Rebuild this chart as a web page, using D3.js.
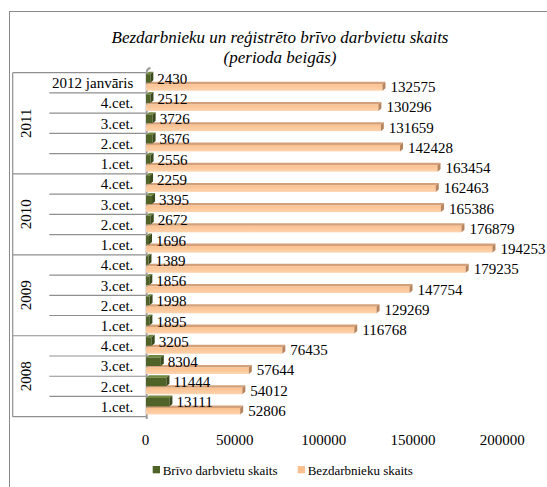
<!DOCTYPE html>
<html>
<head>
<meta charset="utf-8">
<script src="https://cdn.jsdelivr.net/npm/d3@7"></script>
<style>
    body { margin: 0; background: #fff; }
    svg text { font-family: "Liberation Serif", Tinos, "Times New Roman", Times, "DejaVu Serif", serif; fill: #000; }
</style>
</head>
<body>
<div id="chart"></div>
<script>
// categories, top to bottom as drawn
const categories = ["2012 janvāris", "4.cet.", "3.cet.", "2.cet.", "1.cet.",
                    "4.cet.", "3.cet.", "2.cet.", "1.cet.",
                    "4.cet.", "3.cet.", "2.cet.", "1.cet.",
                    "4.cet.", "3.cet.", "2.cet.", "1.cet."];
const years = ["2011", "2010", "2009", "2008"];
const yearRows = [5, 4, 4, 4];

// series values, same order as categories
const vacancies = [2430, 2512, 3726, 3676, 2556,
                   2259, 3395, 2672, 1696,
                   1389, 1856, 1998, 1895,
                   3205, 8304, 11444, 13111];
const unemployed = [132575, 130296, 131659, 142428, 163454,
                    162463, 165386, 176879, 194253,
                    179235, 147754, 129269, 116768,
                    76435, 57644, 54012, 52806];

const xTicks = [0, 50000, 100000, 150000, 200000];
const seriesNames = ["Brīvo darbvietu skaits", "Bezdarbnieku skaits"];

const fontStack = "\"Liberation Serif\", Tinos, \"Times New Roman\", Times, \"DejaVu Serif\", serif";
const width = 547;
const height = 487;
const depth = {x: 3, y: -2.5};

// rows keyed by index so repeated labels stay distinct
const rows = categories.map(function(c, i) {
    return {i: i, label: c, green: vacancies[i], orange: unemployed[i]};
});

const xScale = d3.scaleLinear().domain([0, 200000]).range([145, 501.7]);
const xBar = d3.scaleLinear().domain([0, 200000]).range([146, 502.7]);
const yScale = d3.scaleBand().domain(d3.range(rows.length)).range([72.7, 416.7]);
const rowH = yScale.bandwidth();

const svg = d3.select("#chart").append("svg")
    .attr("width", width)
    .attr("height", height)
    .style("font-family", fontStack);

// outer chart border (runs past the picture on right and bottom)
svg.append("rect")
    .attr("x", 9.5).attr("y", 11.5)
    .attr("width", 600).attr("height", 600)
    .attr("fill", "none")
    .attr("stroke", "#8a8a8a")
    .attr("stroke-width", 1);

// title
const title = svg.append("text")
    .attr("text-anchor", "middle")
    .style("font-style", "italic")
    .style("font-size", "17px");
title.append("tspan").attr("x", 280).attr("y", 42.5).text("Bezdarbnieku un reģistrēto brīvo darbvietu skaits");
title.append("tspan").attr("x", 280).attr("y", 63).text("(perioda beigās)");

// label table on the left
const table = svg.append("g")
    .attr("stroke", "#8f8f8f")
    .attr("stroke-width", 1.2);

let start = 0;
const groupBounds = [];
yearRows.forEach(function(n) {
    groupBounds.push([start, start + n]);
    start += n;
});

rows.forEach(function(d) {
    const isGroupTop = groupBounds.some(function(b) { return b[0] === d.i; });
    table.append("line")
        .attr("x1", isGroupTop ? 12.7 : 49.3)
        .attr("x2", 146.7)
        .attr("y1", yScale(d.i))
        .attr("y2", yScale(d.i));
});
table.append("line")
    .attr("x1", 12.7).attr("x2", 146.7)
    .attr("y1", yScale.range()[1]).attr("y2", yScale.range()[1]);
table.append("line")
    .attr("x1", 12.7).attr("x2", 12.7)
    .attr("y1", yScale.range()[0]).attr("y2", yScale.range()[1]);

svg.append("g").selectAll("text").data(rows).enter()
    .append("text")
        .attr("x", 133.3)
        .attr("y", function(d) { return yScale(d.i) + 15.5; })
        .attr("text-anchor", "end")
        .style("font-size", "15px")
        .text(function(d) { return d.label; });

svg.append("g").selectAll("text").data(years).enter()
    .append("text")
        .attr("transform", function(d, i) {
            const b = groupBounds[i];
            const cy = (yScale(b[0]) + yScale(b[1] - 1) + rowH) / 2;
            return "translate(30.5," + cy + ") rotate(-90)";
        })
        .attr("text-anchor", "middle")
        .style("font-size", "15px")
        .text(function(d) { return d; });

// vertical axis wall edge
svg.append("path")
    .attr("d", "M146.7,419 L146.7,73 Q146.7,68.5 150.5,68")
    .attr("fill", "none")
    .attr("stroke", "#9a9a9a")
    .attr("stroke-width", 2);

// 3D bar helper
function bar3d(g, x0, x1, y0, y1, front, top, side) {
    const dx = depth.x, dy = depth.y;
    g.append("polygon")
        .attr("points", [[x0, y0], [x0 + dx, y0 + dy], [x1 + dx, y0 + dy], [x1, y0]].join(" "))
        .attr("fill", top);
    g.append("rect")
        .attr("x", x0).attr("y", y0)
        .attr("width", Math.max(0, x1 - x0)).attr("height", y1 - y0)
        .attr("fill", front);
    g.append("polygon")
        .attr("points", [[x1, y0], [x1 + dx, y0 + dy], [x1 + dx, y1 + dy], [x1, y1]].join(" "))
        .attr("fill", side);
}

const defs = svg.append("defs");
const og = defs.append("linearGradient").attr("id", "orangeFront")
    .attr("x1", 0).attr("y1", 0).attr("x2", 0).attr("y2", 1);
og.append("stop").attr("offset", "0%").attr("stop-color", "#fbc08e");
og.append("stop").attr("offset", "100%").attr("stop-color", "#fdd3ae");

const bars = svg.append("g");
rows.forEach(function(d) {
    const t = yScale(d.i);
    bar3d(bars, xBar(0), xBar(d.orange), t + 11.5, t + 18,
        "url(#orangeFront)", "#d3a07a", "#b7845d");
    bar3d(bars, xBar(0), xBar(d.green), t + 1.5, t + 10,
        "#4f6228", "#72873f", "#3b4a1d");
});

// value labels
svg.append("g").selectAll("text").data(rows).enter()
    .append("text")
        .attr("x", function(d) { return xBar(d.orange) + depth.x + 5; })
        .attr("y", function(d) { return yScale(d.i) + 19.5; })
        .style("font-size", "15px")
        .text(function(d) { return d.orange; });

svg.append("g").selectAll("text").data(rows).enter()
    .append("text")
        .attr("x", function(d) { return xBar(d.green) + depth.x + 4; })
        .attr("y", function(d) { return yScale(d.i) + 11; })
        .style("font-size", "15px")
        .text(function(d) { return d.green; });

// x axis (labels only)
const xAxis = d3.axisBottom(xScale).tickValues(xTicks).tickSize(0).tickPadding(0)
    .tickFormat(function(d) { return d; });
const axisG = svg.append("g")
    .attr("transform", "translate(0,433)")
    .call(xAxis);
axisG.select(".domain").remove();
axisG.attr("font-family", null).attr("font-size", null);
axisG.selectAll("text")
    .attr("dy", null)
    .attr("y", 12)
    .style("font-family", fontStack)
    .style("font-size", "15px")
    .attr("fill", "#000");

// legend
const legend = svg.append("g").attr("transform", "translate(0,470)");
const legendX = [152.7, 297.7];
const legendColors = ["#4f6228", "#fac090"];
seriesNames.forEach(function(name, i) {
    legend.append("rect")
        .attr("x", legendX[i]).attr("y", -4)
        .attr("width", 7.3).attr("height", 7.3)
        .attr("fill", legendColors[i]);
    legend.append("text")
        .attr("x", legendX[i] + 10)
        .attr("y", 4.5)
        .style("font-size", "13px")
        .text(name);
});
</script>
</body>
</html>
